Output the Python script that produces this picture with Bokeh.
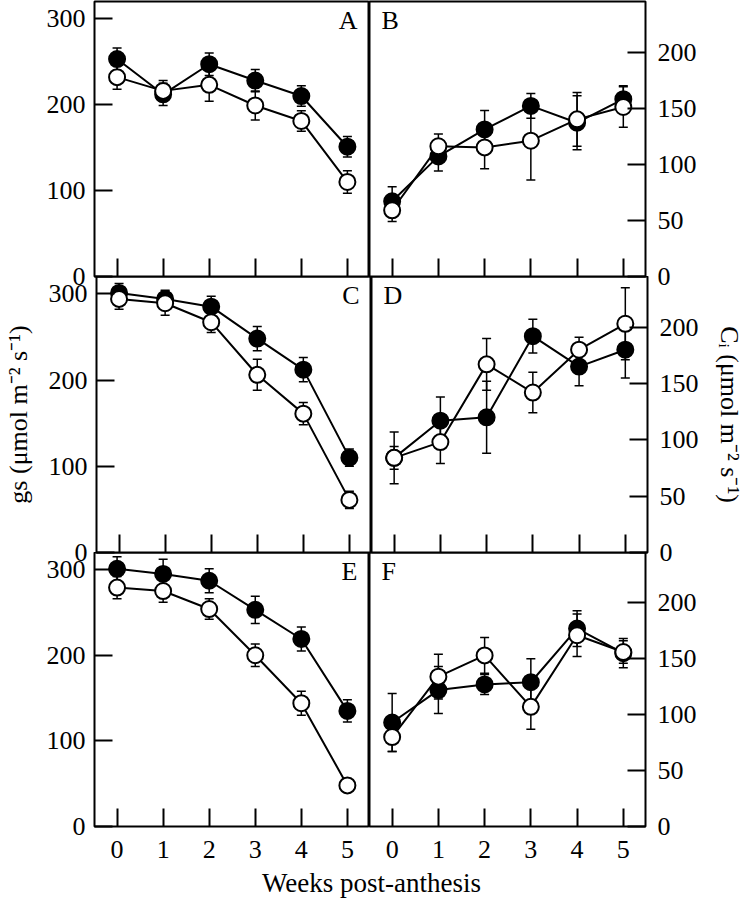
from bokeh.plotting import figure
from bokeh.models import ColumnDataSource, Range1d, FixedTicker, Whisker, TeeHead, Label
from bokeh.layouts import row, column
from bokeh.embed import file_html
from bokeh.resources import INLINE

# ---------------- data ----------------
weeks = [0, 1, 2, 3, 4, 5]
x_ticks = [0, 1, 2, 3, 4, 5]
gs_ticks = [0, 100, 200, 300]
ci_ticks = [0, 50, 100, 150, 200]
panel_letters = ["A", "B", "C", "D", "E", "F"]
x_title = "Weeks post-anthesis"
gs_title = "gs (\u03bcmol m\u207b\u00b2 s\u207b\u00b9)"
ci_title = "C\u1d62 (\u03bcmol m\u207b\u00b2 s\u207b\u00b9)"

# Panel A (gs)
a_filled = [253, 212, 247, 228, 210, 151]
a_filled_err = [13, 13, 13, 13, 12, 12]
a_open = [232, 216, 223, 199, 181, 110]
a_open_err = [14, 12, 19, 17, 12, 13]
# Panel B (Ci)
b_filled = [67, 107, 131, 152, 137, 158]
b_filled_err = [13, 13, 17, 11, 24, 12]
b_open = [59, 116, 115, 121, 140, 151]
b_open_err = [10, 11, 19, 35, 24, 18]
# Panel C (gs)
c_filled = [301, 294, 285, 248, 212, 110]
c_filled_err = [11, 10, 12, 14, 14, 10]
c_open = [294, 289, 267, 206, 161, 61]
c_open_err = [12, 14, 12, 18, 13, 10]
# Panel D (Ci)
d_filled = [84, 117, 120, 192, 165, 180]
d_filled_err = [23, 21, 32, 15, 17, 25]
d_open = [84, 98, 167, 142, 180, 203]
d_open_err = [10, 19, 23, 18, 11, 32]
# Panel E (gs)
e_filled = [301, 295, 287, 253, 219, 135]
e_filled_err = [14, 17, 14, 16, 14, 13]
e_open = [279, 275, 254, 200, 144, 48]
e_open_err = [13, 13, 12, 13, 14, 8]
# Panel F (Ci)
f_filled = [93, 122, 127, 129, 177, 155]
f_filled_err = [26, 21, 9, 21, 16, 13]
f_open = [80, 134, 153, 107, 171, 156]
f_open_err = [13, 20, 16, 20, 19, 10]

FONT = "Liberation Serif"
TICK_FS = "26px"
TITLE_FS = "26px"
X0, X1 = -0.49, 5.48
GS_MAX, CI_MAX = 320, 245
FRAME_H = [275, 276, 274]
OVER = 16  # overflow room below rows 1 and 2 (rows overlap by this much)


def make_src(vals, errs):
    return ColumnDataSource(dict(
        x=weeks, y=vals,
        upper=[v + e for v, e in zip(vals, errs)],
        lower=[v - e for v, e in zip(vals, errs)],
    ))


def make_panel(letter, filled, filled_err, opened, opened_err, side, row_pos, ytitle=None):
    left = side == "left"
    p = figure(
        frame_width=275 if left else 276, frame_height=FRAME_H[row_pos],
        x_range=Range1d(X0, X1),
        y_range=Range1d(0, GS_MAX if left else CI_MAX),
        y_axis_location="left" if left else "right",
        toolbar_location=None, output_backend="svg",
        min_border_left=94 if left else 0,
        min_border_right=0 if left else 95,
        min_border_top=1 if row_pos == 0 else 0,
        min_border_bottom=46 if row_pos == 2 else OVER,
        border_fill_color=None, background_fill_color=None,
        outline_line_color="black", outline_line_width=2,
    )
    p.grid.visible = False

    for ax in p.xaxis:
        ax.ticker = FixedTicker(ticks=x_ticks)
        ax.major_tick_in = 18
        ax.major_tick_out = 0
        ax.major_tick_line_width = 2
        ax.major_tick_line_color = "black"
        ax.minor_tick_line_color = None
        ax.axis_line_color = None
        if row_pos == 2:
            ax.major_label_text_font = FONT
            ax.major_label_text_font_size = TICK_FS
            ax.major_label_text_color = "black"
            ax.major_label_standoff = 14
        else:
            ax.major_label_text_font_size = "0px"
            ax.major_label_text_color = None
            ax.major_label_standoff = 0

    for ax in p.yaxis:
        ax.ticker = FixedTicker(ticks=gs_ticks if left else ci_ticks)
        ax.major_tick_in = 18
        ax.major_tick_out = 0
        ax.major_tick_line_width = 2
        ax.major_tick_line_color = "black"
        ax.minor_tick_line_color = None
        ax.axis_line_color = None
        ax.major_label_text_font = FONT
        ax.major_label_text_font_size = TICK_FS
        ax.major_label_text_color = "black"
        ax.major_label_standoff = 9 if left else 12
        if ytitle:
            ax.axis_label = ytitle
            ax.axis_label_text_font = FONT
            ax.axis_label_text_font_size = TITLE_FS
            ax.axis_label_text_font_style = "normal"
            ax.axis_label_text_color = "black"
            ax.axis_label_standoff = 13

    fsrc = make_src(filled, filled_err)
    osrc = make_src(opened, opened_err)
    for src in (fsrc, osrc):
        p.add_layout(Whisker(
            source=src, base="x", upper="upper", lower="lower",
            line_color="black", line_width=1.5,
            upper_head=TeeHead(size=9, line_width=1.5, line_color="black"),
            lower_head=TeeHead(size=9, line_width=1.5, line_color="black"),
        ))
    p.line("x", "y", source=fsrc, line_color="black", line_width=2)
    p.line("x", "y", source=osrc, line_color="black", line_width=2)
    p.scatter("x", "y", source=fsrc, marker="circle", size=16,
              fill_color="black", line_color="black", line_width=2)
    p.scatter("x", "y", source=osrc, marker="circle", size=16,
              fill_color="white", line_color="black", line_width=2)

    if left:
        lab = Label(x=X1, y=GS_MAX, x_offset=-12, y_offset=-4, text=letter,
                    text_align="right", text_baseline="top")
    else:
        lab = Label(x=X0, y=CI_MAX, x_offset=12, y_offset=-4, text=letter,
                    text_align="left", text_baseline="top")
    lab.text_font = FONT
    lab.text_font_size = TITLE_FS
    lab.text_color = "black"
    p.add_layout(lab)
    return p


pA = make_panel(panel_letters[0], a_filled, a_filled_err, a_open, a_open_err, "left", 0)
pB = make_panel(panel_letters[1], b_filled, b_filled_err, b_open, b_open_err, "right", 0)
pC = make_panel(panel_letters[2], c_filled, c_filled_err, c_open, c_open_err, "left", 1, gs_title)
pD = make_panel(panel_letters[3], d_filled, d_filled_err, d_open, d_open_err, "right", 1, ci_title)
pE = make_panel(panel_letters[4], e_filled, e_filled_err, e_open, e_open_err, "left", 2)
pF = make_panel(panel_letters[5], f_filled, f_filled_err, f_open, f_open_err, "right", 2)

XL_H = 38
xl = figure(width=740, height=XL_H, x_range=Range1d(0, 740), y_range=Range1d(0, XL_H),
            x_axis_type=None, y_axis_type=None, toolbar_location=None,
            output_backend="svg", min_border=0, outline_line_color=None,
            border_fill_color=None, background_fill_color=None)
xl.grid.visible = False
xl.add_layout(Label(x=371, y=16, text=x_title, text_align="center",
                    text_baseline="middle", text_font=FONT,
                    text_font_size="27px", text_color="black"))

r1 = row(pA, pB)
r2 = row(pC, pD, margin=(-OVER, 0, 0, 0))
r3 = row(pE, pF, margin=(-OVER, 0, 0, 0))
xl_row = row(xl, margin=(-12, 0, 0, 0))
layout = column(r1, r2, r3, xl_row)

open("out.html", "w").write(file_html(layout, INLINE))
